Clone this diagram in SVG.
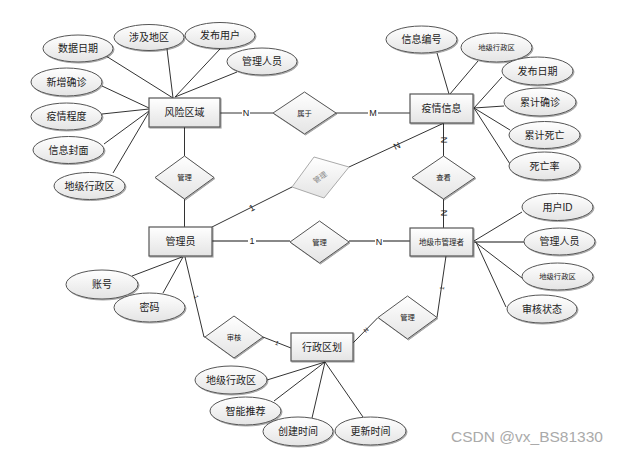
<svg xmlns="http://www.w3.org/2000/svg" width="617" height="453" viewBox="0 0 617 453">
<defs>
<linearGradient id="g" x1="0" y1="0" x2="0" y2="1"><stop offset="0" stop-color="#ffffff"/><stop offset="1" stop-color="#e4e4e4"/></linearGradient>
<filter id="sh" x="-20%" y="-20%" width="140%" height="140%"><feDropShadow dx="1" dy="1" stdDeviation="0.7" flood-color="#000" flood-opacity="0.35"/></filter>
</defs>
<style>
text{font-family:"Liberation Sans","Noto Sans CJK SC",sans-serif;fill:#222;text-anchor:middle;dominant-baseline:central}
.ent{fill:url(#g);stroke:#555;stroke-width:1.2;filter:url(#sh)}
.att{fill:url(#g);stroke:#555;stroke-width:1;filter:url(#sh)}
.rel{fill:url(#g);stroke:#555;stroke-width:1;filter:url(#sh)}
.t10{font-size:10px}
.t7{font-size:7.3px}
.lbl{font-size:9px}
.c{stroke:#333;stroke-width:1;fill:none}
.cg{stroke:#888;stroke-width:2;fill:none}
</style>
<rect width="617" height="453" fill="#fff"/>
<g id="connectors">
<!-- 风险区域 attrs -->
<line class="c" x1="106" y1="56" x2="173" y2="98"/>
<line class="c" x1="167" y1="49" x2="173" y2="98"/>
<line class="c" x1="220" y1="49" x2="175" y2="97"/>
<line class="c" x1="237" y1="72" x2="175" y2="97"/>
<line class="c" x1="102" y1="86" x2="149" y2="108"/>
<line class="c" x1="102" y1="114" x2="149" y2="109"/>
<line class="c" x1="104" y1="144" x2="149" y2="111"/>
<line class="c" x1="113" y1="173" x2="149" y2="112"/>
<!-- 疫情信息 attrs -->
<line class="c" x1="437" y1="53" x2="449" y2="94"/>
<line class="c" x1="478" y1="61" x2="450" y2="94"/>
<line class="c" x1="502" y1="77" x2="474" y2="108"/>
<line class="c" x1="504" y1="106" x2="474" y2="108"/>
<line class="c" x1="510" y1="130" x2="474" y2="108"/>
<line class="c" x1="510" y1="164" x2="474" y2="108"/>
<!-- 地级市管理者 attrs -->
<line class="c" x1="522" y1="212" x2="474" y2="241"/>
<line class="cg" x1="474" y1="242" x2="524" y2="242"/>
<line class="c" x1="522" y1="278" x2="475" y2="242"/>
<line class="c" x1="506" y1="307" x2="476" y2="242"/>
<!-- 管理员 attrs -->
<line class="c" x1="132" y1="276" x2="182" y2="257"/>
<line class="c" x1="163" y1="293" x2="183" y2="257"/>
<!-- 行政区划 attrs -->
<line class="c" x1="267" y1="380" x2="325" y2="362"/>
<line class="c" x1="274" y1="401" x2="325" y2="362"/>
<line class="c" x1="312" y1="418" x2="325" y2="362"/>
<line class="c" x1="363" y1="417" x2="325" y2="362"/>
<!-- relationships -->
<line class="c" x1="220" y1="113" x2="273" y2="113"/>
<line class="c" x1="336" y1="113" x2="410" y2="113"/>
<line class="c" x1="184.5" y1="127" x2="184.5" y2="156"/>
<line class="c" x1="184.5" y1="199" x2="184.5" y2="227"/>
<line class="cg" x1="212" y1="241" x2="290" y2="241"/>
<line class="cg" x1="349" y1="241" x2="410" y2="241"/>
<line class="c" x1="212" y1="227" x2="292" y2="187"/>
<line class="c" x1="349" y1="167" x2="444" y2="123"/>
<line class="c" x1="443.5" y1="123" x2="443.5" y2="156"/>
<line class="c" x1="443.5" y1="199" x2="443.5" y2="228"/>
<polyline class="c" points="185,257 204,337 205,337"/>
<line class="c" x1="263" y1="337" x2="291" y2="348"/>
<line class="c" x1="353" y1="343" x2="378" y2="317.5"/>
<line class="c" x1="437" y1="317.5" x2="446" y2="256"/>
<!-- cardinality labels -->
<g class="lbl">
<rect x="242" y="108" width="8" height="10" fill="#fff"/><text x="246" y="113">N</text>
<rect x="368" y="108" width="10" height="10" fill="#fff"/><text x="373" y="113">M</text>
<rect x="248" y="236" width="8" height="10" fill="#fff"/><text x="252" y="241">1</text>
<rect x="375" y="236" width="8" height="10" fill="#fff"/><text x="379" y="242">N</text>
<text x="252" y="208" transform="rotate(-27 252 208)">1</text>
<text x="397" y="146" transform="rotate(-25 397 146)">N</text>
<text x="444" y="140" transform="rotate(90 444 140)">N</text>
<text x="444" y="213" transform="rotate(90 444 213)">N</text>
<text x="196" y="297" font-size="6" transform="rotate(77 196 297)">1</text>
<text x="277" y="343" font-size="6" transform="rotate(22 277 343)">1</text>
<text x="366" y="330" font-size="6" fill="#777" transform="rotate(-45 366 330)">N</text>
<text x="442" y="288" font-size="6" transform="rotate(-82 442 288)">1</text>
</g>
</g>
<g id="e-fengxian"><rect class="ent" x="149" y="98" width="71" height="29"/><text class="t10" x="184.5" y="112.5">风险区域</text></g>
<g id="e-yiqing"><rect class="ent" x="410" y="94" width="63" height="29"/><text class="t10" x="441.5" y="108.5">疫情信息</text></g>
<g id="e-guanliyuan"><rect class="ent" x="149" y="227" width="63" height="29"/><text class="t10" x="180.5" y="241.5">管理员</text></g>
<g id="e-dijishi"><rect class="ent" x="410" y="228" width="63" height="28"/><text x="441.5" y="242" font-size="7.5">地级市管理者</text></g>
<g id="e-xingzheng"><rect class="ent" x="291" y="333" width="62" height="28"/><text class="t10" x="322" y="347">行政区划</text></g>

<g id="r-shuyu"><polygon class="rel" points="304.5,92 336,113 304.5,134 273,113"/><text class="t7" x="304.5" y="113">属于</text></g>
<g id="r-guanli1"><polygon class="rel" points="184.5,156 214,177.5 184.5,199 155,177.5"/><text class="t7" x="184.5" y="177.5">管理</text></g>
<g id="r-guanli-gray"><polygon points="314,157 349,167 324,198 292,187" fill="url(#g)" stroke="#aaa" stroke-width="1"/><text class="t7" x="320" y="177.5" fill="#888" style="fill:#888" transform="rotate(-35 320 177.5)">管理</text></g>
<g id="r-chakan"><polygon class="rel" points="443.5,156 475,177.5 443.5,199 412,177.5"/><text class="t7" x="443.5" y="177.5">查看</text></g>
<g id="r-guanli2"><polygon class="rel" points="319.5,221 349,242 319.5,263 290,242"/><text class="t7" x="319.5" y="242">管理</text></g>
<g id="r-shenhe"><polygon class="rel" points="234,316 263,337 234,358 205,337"/><text class="t7" x="234" y="337">审核</text></g>
<g id="r-guanli3"><polygon class="rel" points="407.5,296 437,317.5 407.5,339 378,317.5"/><text class="t7" x="407.5" y="317.5">管理</text></g>

<g id="a-shujuriqi"><ellipse class="att" cx="78" cy="48.5" rx="35" ry="13.5"/><text class="t10" x="78" y="48.5">数据日期</text></g>
<g id="a-shejidiqu"><ellipse class="att" cx="149" cy="37.5" rx="35" ry="13"/><text class="t10" x="149" y="37.5">涉及地区</text></g>
<g id="a-fabuyonghu"><ellipse class="att" cx="220" cy="35.5" rx="35" ry="13"/><text class="t10" x="220" y="35.5">发布用户</text></g>
<g id="a-guanlirenyuan1"><ellipse class="att" cx="262" cy="61.5" rx="35" ry="13.5"/><text class="t10" x="262" y="61.5">管理人员</text></g>
<g id="a-xinzeng"><ellipse class="att" cx="66.5" cy="82" rx="35.5" ry="14"/><text class="t10" x="66.5" y="82">新增确诊</text></g>
<g id="a-chengdu"><ellipse class="att" cx="66.5" cy="116.5" rx="35.5" ry="13.5"/><text class="t10" x="66.5" y="116.5">疫情程度</text></g>
<g id="a-fengmian"><ellipse class="att" cx="68.5" cy="150" rx="35.5" ry="13.5"/><text class="t10" x="68.5" y="150">信息封面</text></g>
<g id="a-dijixzq1"><ellipse class="att" cx="89.5" cy="186" rx="35.5" ry="13.5"/><text class="t10" x="89.5" y="186">地级行政区</text></g>

<g id="a-bianhao"><ellipse class="att" cx="421.5" cy="39.5" rx="35.5" ry="13.5"/><text class="t10" x="421.5" y="39.5">信息编号</text></g>
<g id="a-dijixzq2"><ellipse class="att" cx="496.5" cy="47.5" rx="35.5" ry="14.5"/><text class="t7" x="496.5" y="47.5">地级行政区</text></g>
<g id="a-fabuqiri"><ellipse class="att" cx="537.5" cy="71" rx="35.5" ry="14"/><text class="t10" x="537.5" y="71">发布日期</text></g>
<g id="a-leijiqz"><ellipse class="att" cx="540" cy="102" rx="36" ry="14"/><text class="t10" x="540" y="102">累计确诊</text></g>
<g id="a-leijisw"><ellipse class="att" cx="544.5" cy="135" rx="35.5" ry="13.5"/><text class="t10" x="544.5" y="135">累计死亡</text></g>
<g id="a-siwanglv"><ellipse class="att" cx="544.5" cy="166" rx="35.5" ry="14"/><text class="t10" x="544.5" y="166">死亡率</text></g>

<g id="a-yonghuid"><ellipse class="att" cx="557.5" cy="207" rx="35.5" ry="13.5"/><text class="t10" x="557.5" y="207">用户ID</text></g>
<g id="a-guanlirenyuan2"><ellipse class="att" cx="559.5" cy="241.5" rx="35.5" ry="13.5"/><text class="t10" x="559.5" y="241.5">管理人员</text></g>
<g id="a-dijixzq3"><ellipse class="att" cx="557.5" cy="276.5" rx="35.5" ry="13.5"/><text class="t7" x="557.5" y="276.5">地级行政区</text></g>
<g id="a-shenhezt"><ellipse class="att" cx="542" cy="309" rx="35" ry="14"/><text class="t10" x="542" y="309">审核状态</text></g>

<g id="a-zhanghao"><ellipse class="att" cx="102" cy="284.5" rx="36" ry="14.5"/><text class="t10" x="102" y="284.5">账号</text></g>
<g id="a-mima"><ellipse class="att" cx="149.5" cy="307.5" rx="35.5" ry="14.5"/><text class="t10" x="149.5" y="307.5">密码</text></g>

<g id="a-dijixzq4"><ellipse class="att" cx="231" cy="380" rx="36" ry="14"/><text class="t10" x="231" y="380">地级行政区</text></g>
<g id="a-tuijian"><ellipse class="att" cx="245.5" cy="411" rx="35.5" ry="14"/><text class="t10" x="245.5" y="411">智能推荐</text></g>
<g id="a-chuangjian"><ellipse class="att" cx="298" cy="431.5" rx="35" ry="14.5"/><text class="t10" x="298" y="431.5">创建时间</text></g>
<g id="a-gengxin"><ellipse class="att" cx="370.5" cy="431" rx="35.5" ry="14"/><text class="t10" x="370.5" y="431">更新时间</text></g>

<text x="527" y="436" font-size="15.5" style="fill:#aaa">CSDN @vx_BS81330</text>
</svg>
